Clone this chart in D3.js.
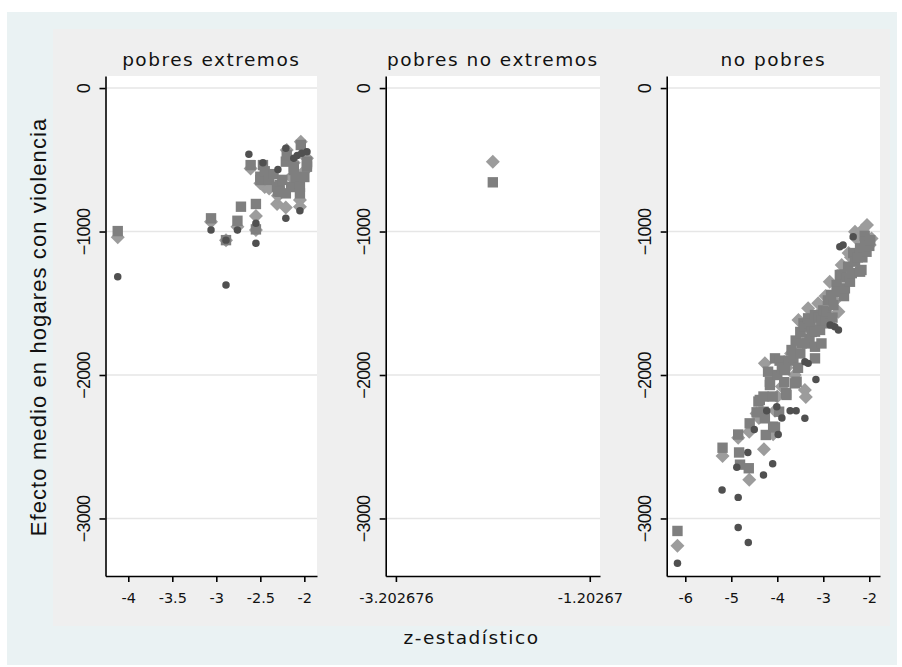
<!DOCTYPE html>
<html>
<head>
<meta charset="utf-8">
<script src="https://cdn.jsdelivr.net/npm/d3@7"></script>
<style>
  body { margin: 0; background: #fff; }
  svg { display: block; }
</style>
</head>
<body>
<div id="chart"></div>
<script>
// panel titles and axis ticks
const panelTitles = ["pobres extremos", "pobres no extremos", "no pobres"];
const yTicks = [0, -1000, -2000, -3000];
const xTicksExt = [-4, -3.5, -3, -2.5, -2];
const xTicksNoExt = [-3.202676, -1.20267];
const xTicksNoPob = [-6, -5, -4, -3, -2];

// pobres extremos  [z, efecto]
const extSquares = [[-4.12,-997],[-3.06,-908],[-2.89,-1060],[-2.76,-925],[-2.72,-827],[-2.55,-808],[-2.55,-985],
  [-2.61,-537],[-2.50,-618],[-2.50,-641],[-2.47,-537],[-2.45,-580],[-2.40,-640],[-2.35,-600],[-2.31,-688],
  [-2.30,-720],[-2.28,-676],[-2.28,-723],[-2.25,-640],[-2.21,-734],[-2.21,-513],[-2.20,-467],[-2.15,-690],
  [-2.12,-548],[-2.12,-571],[-2.10,-620],[-2.05,-688],[-2.05,-734],[-2.04,-397],[-2.00,-620],[-1.97,-513],
  [-1.97,-548],[-1.97,-525]];
const extDiamonds = [[-4.12,-1040],[-3.06,-932],[-2.89,-1060],[-2.76,-966],[-2.55,-892],[-2.55,-990],[-2.61,-560],
  [-2.50,-664],[-2.45,-690],[-2.40,-700],[-2.31,-808],[-2.30,-750],[-2.21,-832],[-2.20,-432],[-2.15,-620],
  [-2.12,-520],[-2.05,-780],[-2.05,-827],[-2.04,-374],[-2.00,-580],[-1.97,-490]];
const extCircles = [[-4.12,-1315],[-3.06,-990],[-2.89,-1373],[-2.89,-1060],[-2.76,-990],[-2.55,-943],[-2.55,-1082],
  [-2.63,-462],[-2.47,-520],[-2.30,-567],[-2.21,-908],[-2.21,-420],[-2.12,-490],[-2.08,-470],[-2.05,-855],
  [-2.03,-455],[-1.97,-444]];

// pobres no extremos
const noExtSquares = [[-2.2027,-657]];
const noExtDiamonds = [[-2.2027,-514]];
const noExtCircles = [];

// no pobres
const noPobSquares = [[-6.17,-3087],[-5.19,-2507],[-4.85,-2415],[-4.83,-2540],[-4.81,-2625],[-4.62,-2650],
  [-4.60,-2337],[-4.45,-2260],[-4.41,-2185],[-4.38,-2174],[-4.30,-2256],[-4.30,-2150],[-4.27,-2302],[-4.25,-2418],
  [-4.20,-1977],[-4.16,-2047],[-4.16,-2070],[-4.10,-2150],[-4.09,-2360],[-4.05,-2365],[-4.05,-1884],[-4.00,-2000],
  [-3.96,-2256],[-3.95,-1900],[-3.90,-1950],[-3.85,-2050],[-3.83,-1965],[-3.81,-2127],[-3.80,-2139],[-3.75,-1900],
  [-3.69,-1826],[-3.65,-1880],[-3.62,-2058],[-3.60,-1760],[-3.58,-2047],[-3.55,-1950],[-3.50,-1850],[-3.50,-1700],
  [-3.47,-1780],[-3.43,-1640],[-3.40,-1663],[-3.35,-1780],[-3.33,-1605],[-3.30,-1750],[-3.29,-1640],[-3.25,-1700],
  [-3.18,-1884],[-3.18,-1803],[-3.18,-1698],[-3.18,-1582],[-3.10,-1600],[-3.07,-1686],[-3.04,-1780],[-3.04,-1617],
  [-3.00,-1550],[-2.95,-1620],[-2.93,-1559],[-2.90,-1480],[-2.86,-1640],[-2.83,-1442],[-2.80,-1600],[-2.78,-1512],
  [-2.71,-1373],[-2.70,-1420],[-2.64,-1303],[-2.60,-1300],[-2.55,-1450],[-2.53,-1396],[-2.50,-1320],[-2.46,-1245],
  [-2.42,-1350],[-2.38,-1290],[-2.35,-1150],[-2.31,-1210],[-2.25,-1180],[-2.20,-1280],[-2.20,-1117],[-2.17,-1268],
  [-2.15,-1180],[-2.10,-1030],[-2.09,-1071],[-2.06,-1141],[-2.00,-1100],[-1.98,-1060]];
const noPobDiamonds = [[-6.17,-3190],[-5.19,-2564],[-4.85,-2437],[-4.61,-2395],[-4.61,-2730],[-4.45,-2268],
  [-4.40,-2300],[-4.29,-2518],[-4.27,-1919],[-4.09,-2413],[-4.05,-2250],[-4.00,-2150],[-3.90,-2080],[-3.80,-1950],
  [-3.70,-1850],[-3.62,-2000],[-3.54,-1617],[-3.50,-1750],[-3.45,-1690],[-3.40,-2105],[-3.38,-2153],[-3.33,-1535],
  [-3.20,-1650],[-3.11,-1500],[-3.05,-1560],[-2.95,-1450],[-2.86,-1350],[-2.75,-1480],[-2.67,-1559],[-2.60,-1233],
  [-2.45,-1150],[-2.40,-1180],[-2.31,-1001],[-2.28,-1048],[-2.20,-1050],[-2.15,-990],[-2.05,-955],[-1.99,-1094],
  [-1.95,-1048]];
const noPobCircles = [[-6.17,-3312],[-5.20,-2801],[-4.88,-2643],[-4.85,-2853],[-4.85,-3063],[-4.64,-2540],
  [-4.63,-3168],[-4.50,-2380],[-4.30,-2697],[-4.23,-2249],[-4.10,-2618],[-4.01,-2221],[-3.98,-2415],[-3.90,-2300],
  [-3.72,-2250],[-3.59,-2250],[-3.40,-2302],[-3.40,-1907],[-3.33,-1919],[-3.16,-2032],[-2.85,-1652],[-2.75,-1663],
  [-2.67,-1686],[-2.64,-1106],[-2.57,-1094],[-2.35,-1036]];

const width = 902, height = 667;
const plotTop = 76, plotBottom = 576;

const panels = [
  { title: panelTitles[0], left: 105.5, right: 317, domain: [-4.259, -1.856], ticks: xTicksExt,
    squares: extSquares, diamonds: extDiamonds, circles: extCircles },
  { title: panelTitles[1], left: 385.7, right: 600, domain: [-3.308, -1.097], ticks: xTicksNoExt,
    squares: noExtSquares, diamonds: noExtDiamonds, circles: noExtCircles },
  { title: panelTitles[2], left: 666.7, right: 880, domain: [-6.404, -1.767], ticks: xTicksNoPob,
    squares: noPobSquares, diamonds: noPobDiamonds, circles: noPobCircles }
];

const svg = d3.select("#chart").append("svg")
  .attr("width", width)
  .attr("height", height);

// backgrounds: outer graph region and inner by-region
svg.append("rect").attr("x", 7).attr("y", 12).attr("width", 890).attr("height", 653).attr("fill", "#eaf2f3");
svg.append("rect").attr("x", 53).attr("y", 29).attr("width", 837).attr("height", 597).attr("fill", "#efefef");

const y = d3.scaleLinear().domain([-3401, 84]).range([plotBottom, plotTop]);

const squareSym = d3.symbol().type(d3.symbolSquare).size(108);
const diamondSym = d3.symbol().type(d3.symbolSquare).size(98);
const circleSym = d3.symbol().type(d3.symbolCircle).size(44);

panels.forEach(p => {
  const x = d3.scaleLinear().domain(p.domain).range([p.left, p.right]);
  const g = svg.append("g");

  // plot region
  g.append("rect")
    .attr("x", p.left).attr("y", plotTop)
    .attr("width", p.right - p.left).attr("height", plotBottom - plotTop)
    .attr("fill", "#ffffff");

  // gridlines
  g.selectAll("line.grid").data(yTicks).enter().append("line")
    .attr("class", "grid")
    .attr("x1", p.left).attr("x2", p.right)
    .attr("y1", d => y(d)).attr("y2", d => y(d))
    .attr("stroke", "#e6e6e6").attr("stroke-width", 1.5);

  // title
  g.append("text")
    .attr("x", (p.left + p.right) / 2)
    .attr("y", 66)
    .attr("text-anchor", "middle")
    .style("font-family", "'DejaVu Sans', sans-serif")
    .style("font-size", "18.5px")
    .style("letter-spacing", "1.5px")
    .attr("fill", "#111")
    .text(p.title);

  // markers: diamonds, then squares, then circles on top
  g.selectAll("path.dm").data(p.diamonds).enter().append("path")
    .attr("class", "dm")
    .attr("d", diamondSym)
    .attr("transform", d => `translate(${x(d[0])},${y(d[1])}) rotate(45)`)
    .attr("fill", "#9c9c9c");

  g.selectAll("path.sq").data(p.squares).enter().append("path")
    .attr("class", "sq")
    .attr("d", squareSym)
    .attr("transform", d => `translate(${x(d[0])},${y(d[1])})`)
    .attr("fill", "#7f7f7f");

  g.selectAll("path.ci").data(p.circles).enter().append("path")
    .attr("class", "ci")
    .attr("d", circleSym)
    .attr("transform", d => `translate(${x(d[0])},${y(d[1])})`)
    .attr("fill", "#505050");

  // y axis
  const yAxis = g.append("g")
    .attr("transform", `translate(${p.left},0)`)
    .call(d3.axisLeft(y).tickValues(yTicks).tickSize(6).tickSizeOuter(0).tickFormat(d3.format("d")));
  yAxis.select(".domain").attr("stroke", "#000").attr("stroke-width", 1.6);
  yAxis.selectAll(".tick line").attr("stroke", "#000").attr("stroke-width", 1.6);
  yAxis.selectAll(".tick text")
    .attr("x", null).attr("dy", null)
    .attr("transform", "translate(-16,0) rotate(-90)")
    .attr("text-anchor", "middle")
    .style("font-family", "'Liberation Sans', Arial, sans-serif")
    .style("font-size", "18px")
    .style("letter-spacing", "-0.8px")
    .attr("fill", "#111");

  // x axis
  const xAxis = g.append("g")
    .attr("transform", `translate(0,${plotBottom})`)
    .call(d3.axisBottom(x).tickValues(p.ticks).tickSize(6).tickSizeOuter(0).tickFormat(d => String(d)));
  xAxis.select(".domain").attr("stroke", "#000").attr("stroke-width", 1.6);
  xAxis.selectAll(".tick line").attr("stroke", "#000").attr("stroke-width", 1.6);
  xAxis.selectAll(".tick text")
    .attr("y", 27).attr("dy", null)
    .style("font-family", "'DejaVu Sans', sans-serif")
    .style("font-size", "14.5px")
    .attr("fill", "#111");
});

// axis titles
svg.append("text")
  .attr("transform", "translate(46,327) rotate(-90)")
  .attr("text-anchor", "middle")
  .style("font-family", "'Liberation Sans', Arial, sans-serif")
  .style("font-size", "22px")
  .style("letter-spacing", "1.1px")
  .attr("fill", "#111")
  .text("Efecto medio en hogares con violencia");

svg.append("text")
  .attr("x", 471.5)
  .attr("y", 644)
  .attr("text-anchor", "middle")
  .style("font-family", "'DejaVu Sans', sans-serif")
  .style("font-size", "18.5px")
  .style("letter-spacing", "1.5px")
  .attr("fill", "#111")
  .text("z-estadístico");
</script>
</body>
</html>
